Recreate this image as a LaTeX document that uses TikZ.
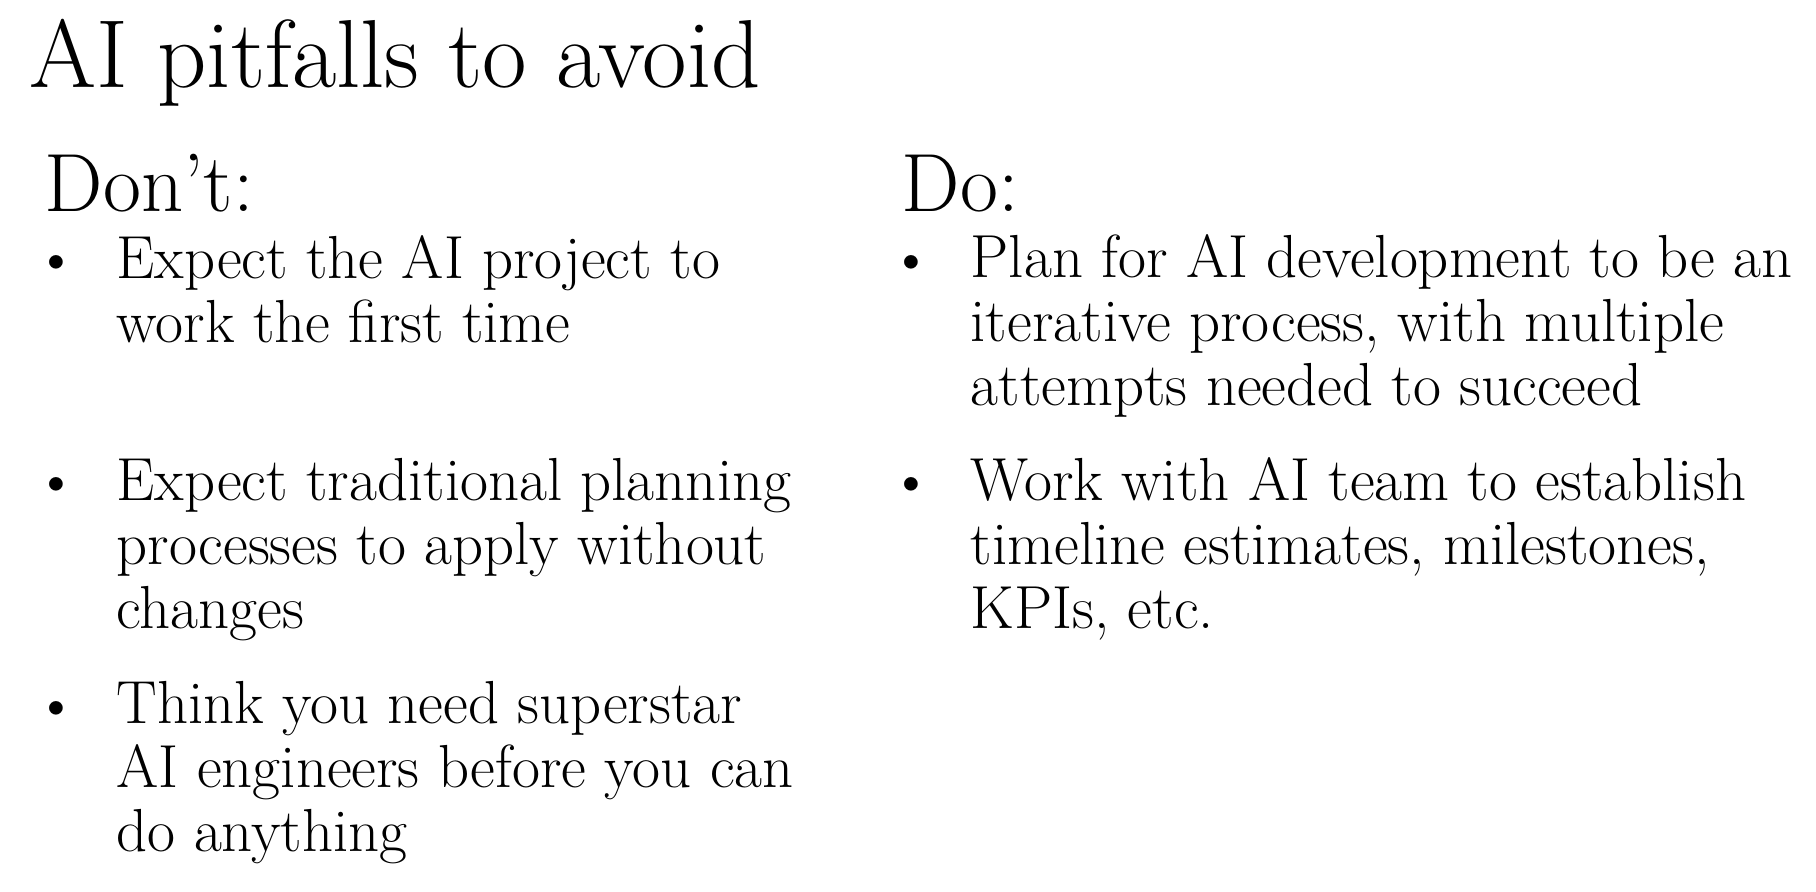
\documentclass[tikz,border=0pt]{standalone}
\usetikzlibrary{positioning}

\begin{document}
\begin{tikzpicture}[inner sep=0pt,
    title/.style={anchor=base west,font=\fontsize{27.5}{33}\selectfont},
    head/.style={anchor=base west,font=\fontsize{23.5}{28}\selectfont},
    item/.style={anchor=base west,align=left,font=\fontsize{17.3}{18.2}\selectfont},
    dot/.style={anchor=base west,font=\fontsize{17.3}{18.2}\selectfont}]
      \useasboundingbox (0,0) rectangle (18.16,8.91);
      \node (T) [title] at (0.29,8.04) {AI pitfalls to avoid};
      % left column (base = last line)
      \node (Dont) [head] at (0.44,6.80) {Don't:};
      \node (D1) [item] at (1.16,5.49) {Expect the AI project to\\work the first time};
      \node (D2) [item] at (1.16,2.63) {Expect traditional planning\\processes to apply without\\changes};
      \node (D3) [item] at (1.16,0.40) {Think you need superstar\\AI engineers before you can\\do anything};
      % right column
      \node (Do) [head] at (9.01,6.80) {Do:};
      \node (P1) [item] at (9.70,4.86) {Plan for AI development to be an\\iterative process, with multiple\\attempts needed to succeed};
      \node (P2) [item] at (9.70,2.63) {Work with AI team to establish\\timeline estimates, milestones,\\KPIs, etc.};
      % bullets on the first lines
      \foreach \y/\n in {6.13/b1,3.91/b2,1.67/b3} \node (\n) [dot] at (0.34,\y) {\textbullet};
      \foreach \y/\n in {6.13/c1,3.91/c2} \node (\n) [dot] at (8.89,\y) {\textbullet};
    \end{tikzpicture}
\end{document}
